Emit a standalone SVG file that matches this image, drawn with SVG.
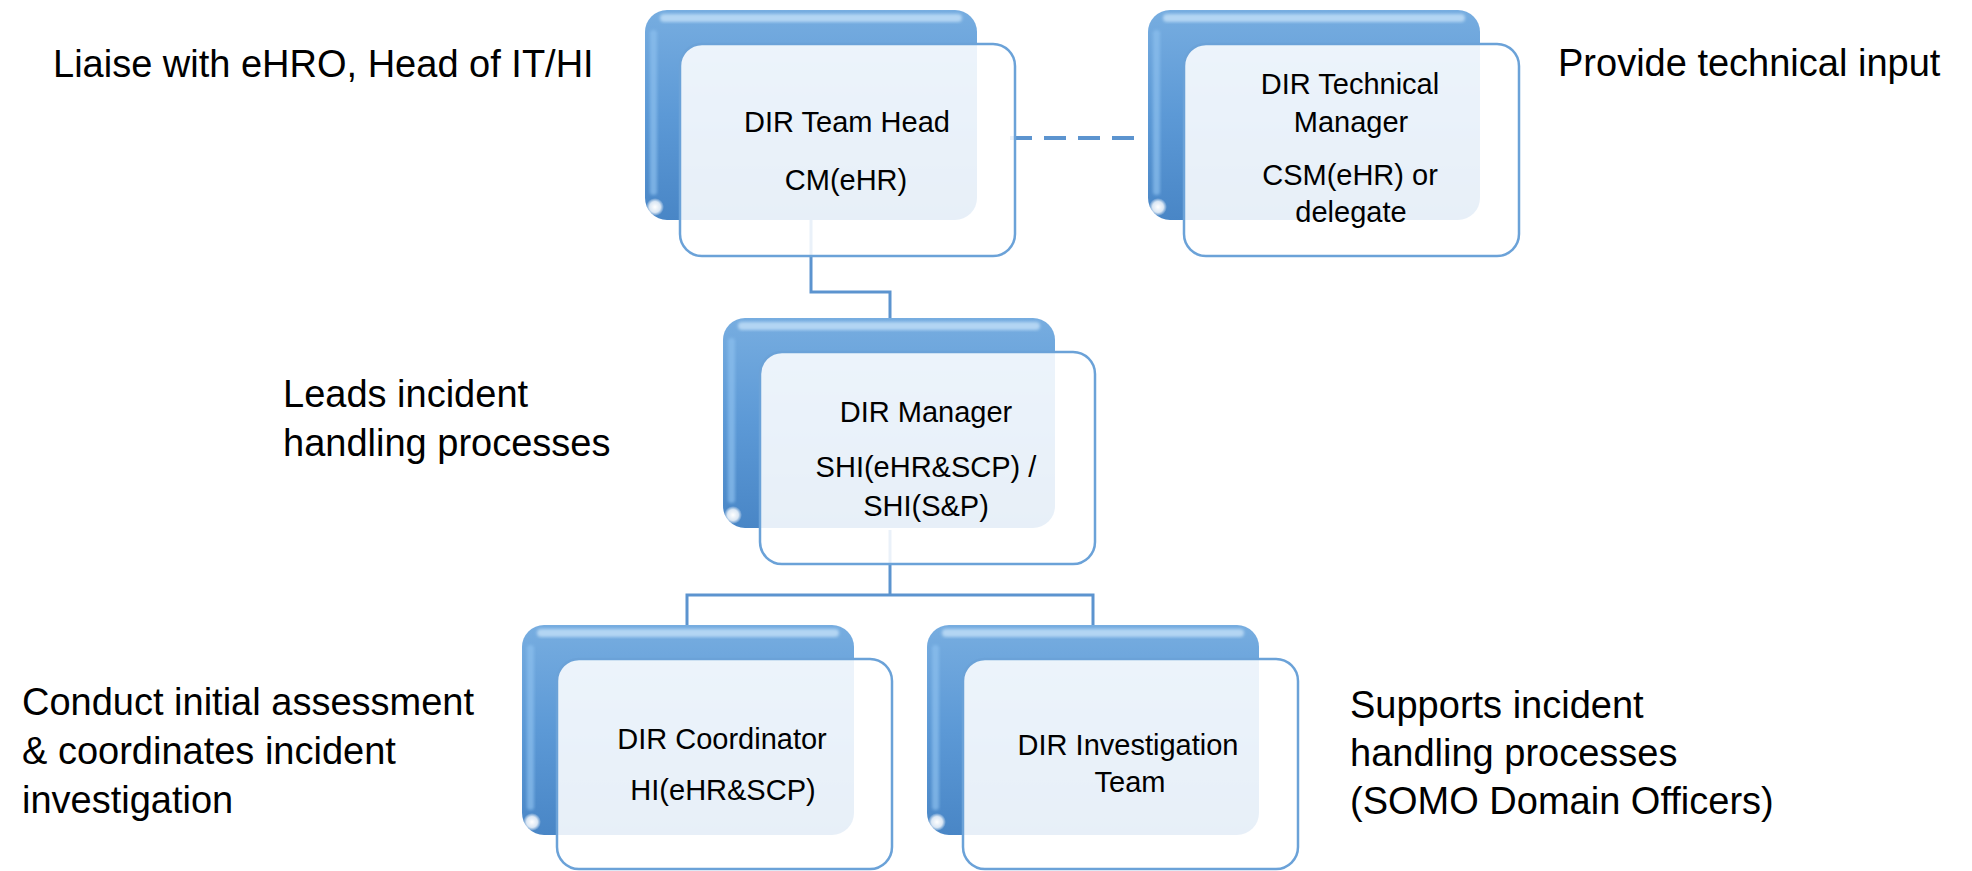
<svg xmlns="http://www.w3.org/2000/svg" width="1972" height="871" viewBox="0 0 1972 871">
<style>
  .back { fill: url(#backGrad); }
  .hiTop { fill: #c3e0f8; opacity: 0.8; filter: url(#soft); }
  .hiLeft { fill: #8cc0ee; opacity: 0.7; filter: url(#soft); }
  .spot { fill: url(#spotGrad); }
  .front { fill: #ffffff; fill-opacity: 0.87; stroke: #6ba2d8; stroke-width: 2.5; }
  .conn { fill: none; stroke: #5c94cf; stroke-width: 3; }
  .dash { fill: none; stroke: #5c94cf; stroke-width: 4; stroke-dasharray: 22 12; }
  .nt { font-family: "Liberation Sans", Arial, sans-serif; font-size: 29px; fill: #000; text-anchor: middle; }
  .ot { font-family: "Liberation Sans", Arial, sans-serif; font-size: 38px; fill: #000; }
</style>
<defs>
  <linearGradient id="backGrad" x1="0" y1="0" x2="0" y2="1">
    <stop offset="0" stop-color="#77ade0"/>
    <stop offset="0.5" stop-color="#5c99d6"/>
    <stop offset="1" stop-color="#4986c6"/>
  </linearGradient>
  <radialGradient id="spotGrad" cx="0.5" cy="0.5" r="0.5">
    <stop offset="0" stop-color="#ffffff" stop-opacity="1"/>
    <stop offset="0.6" stop-color="#ffffff" stop-opacity="0.8"/>
    <stop offset="1" stop-color="#ffffff" stop-opacity="0"/>
  </radialGradient>
  <filter id="soft" x="-20%" y="-20%" width="140%" height="140%">
    <feGaussianBlur stdDeviation="1.5"/>
  </filter>
</defs>
<rect width="1972" height="871" fill="#ffffff"/>

<g id="connectors">
  <path class="conn" d="M811 220 V292 H890 V318"/>
  <path class="conn" d="M890 530 V595"/>
  <path class="conn" d="M687 625 V595 H1093 V625"/>
  <line class="dash" x1="1010" y1="138" x2="1140" y2="138"/>
</g>

<g id="node-team-head">
  <rect class="back" x="645" y="10" width="332" height="210" rx="22"/>
  <rect class="hiTop" x="660" y="14" width="302" height="8" rx="4"/>
  <rect class="hiLeft" x="650" y="30" width="7" height="165" rx="3"/>
  <circle class="spot" cx="655" cy="207" r="9"/>
  <rect class="front" x="680" y="44" width="335" height="212" rx="22"/>
  <text class="nt" x="847" y="132">DIR Team Head</text>
  <text class="nt" x="846" y="190">CM(eHR)</text>
</g>

<g id="node-tech-manager">
  <rect class="back" x="1148" y="10" width="332" height="210" rx="22"/>
  <rect class="hiTop" x="1163" y="14" width="302" height="8" rx="4"/>
  <rect class="hiLeft" x="1153" y="30" width="7" height="165" rx="3"/>
  <circle class="spot" cx="1158" cy="207" r="9"/>
  <rect class="front" x="1184" y="44" width="335" height="212" rx="22"/>
  <text class="nt" x="1350" y="94">DIR Technical</text>
  <text class="nt" x="1351" y="132">Manager</text>
  <text class="nt" x="1350" y="185">CSM(eHR) or</text>
  <text class="nt" x="1351" y="222">delegate</text>
</g>

<g id="node-manager">
  <rect class="back" x="723" y="318" width="332" height="210" rx="22"/>
  <rect class="hiTop" x="738" y="322" width="302" height="8" rx="4"/>
  <rect class="hiLeft" x="728" y="338" width="7" height="165" rx="3"/>
  <circle class="spot" cx="733" cy="515" r="9"/>
  <rect class="front" x="760" y="352" width="335" height="212" rx="22"/>
  <text class="nt" x="926" y="422">DIR Manager</text>
  <text class="nt" x="926" y="477">SHI(eHR&amp;SCP) /</text>
  <text class="nt" x="926" y="516">SHI(S&amp;P)</text>
</g>

<g id="node-coordinator">
  <rect class="back" x="522" y="625" width="332" height="210" rx="22"/>
  <rect class="hiTop" x="537" y="629" width="302" height="8" rx="4"/>
  <rect class="hiLeft" x="527" y="645" width="7" height="165" rx="3"/>
  <circle class="spot" cx="532" cy="822" r="9"/>
  <rect class="front" x="557" y="659" width="335" height="210" rx="22"/>
  <text class="nt" x="722" y="749">DIR Coordinator</text>
  <text class="nt" x="723" y="800">HI(eHR&amp;SCP)</text>
</g>

<g id="node-investigation">
  <rect class="back" x="927" y="625" width="332" height="210" rx="22"/>
  <rect class="hiTop" x="942" y="629" width="302" height="8" rx="4"/>
  <rect class="hiLeft" x="932" y="645" width="7" height="165" rx="3"/>
  <circle class="spot" cx="937" cy="822" r="9"/>
  <rect class="front" x="963" y="659" width="335" height="210" rx="22"/>
  <text class="nt" x="1128" y="755">DIR Investigation</text>
  <text class="nt" x="1130" y="792">Team</text>
</g>

<g id="labels">
  <text class="ot" x="53" y="77">Liaise with eHRO, Head of IT/HI</text>
  <text class="ot" x="1558" y="76">Provide technical input</text>
  <text class="ot" x="283" y="407">Leads incident</text>
  <text class="ot" x="283" y="456">handling processes</text>
  <text class="ot" x="22" y="715">Conduct initial assessment</text>
  <text class="ot" x="22" y="764">&amp; coordinates incident</text>
  <text class="ot" x="22" y="813">investigation</text>
  <text class="ot" x="1350" y="718">Supports incident</text>
  <text class="ot" x="1350" y="766">handling processes</text>
  <text class="ot" x="1350" y="814">(SOMO Domain Officers)</text>
</g>
</svg>
